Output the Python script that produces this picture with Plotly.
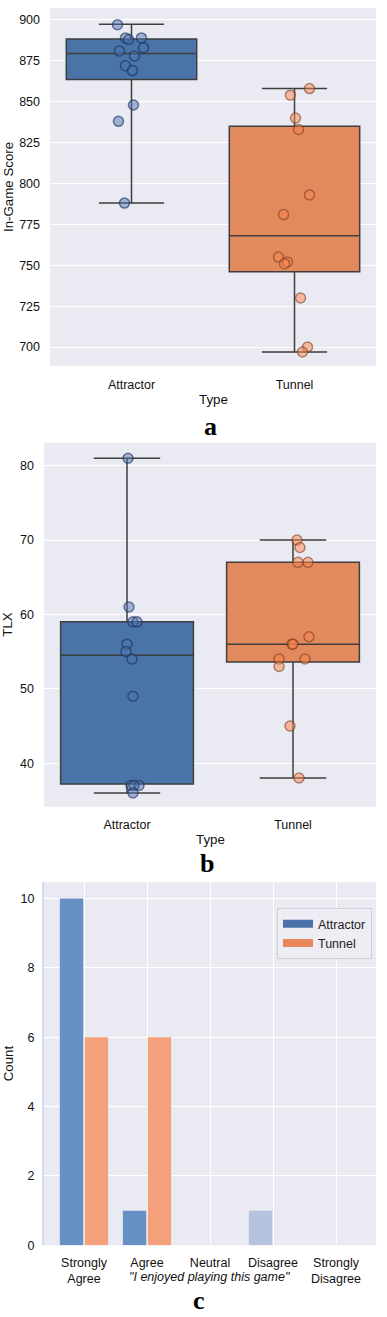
import plotly.graph_objects as go

W, H = 387, 1317

# ---------------- data ----------------
types = ["Attractor", "Tunnel"]

# Panel a: in-game score
score_attractor = [897, 889, 888, 889, 883, 881, 878, 872, 869, 848, 838, 788]
score_attractor_jitter = [-0.086, -0.037, -0.018, 0.061, 0.074, -0.074, 0.018, -0.037, 0.006, 0.012, -0.080, -0.043]
score_tunnel = [858, 854, 840, 833, 793, 781, 755, 752, 751, 730, 700, 697]
score_tunnel_jitter = [0.092, -0.025, 0.006, 0.025, 0.092, -0.067, -0.098, -0.043, -0.061, 0.037, 0.080, 0.049]
score_q1 = [863.5, 746]
score_median = [879.5, 768]
score_q3 = [888.3, 835]
score_low = [788, 697]
score_high = [897.4, 858]

# Panel b: TLX
tlx_attractor = [81, 61, 59, 59, 56, 55, 54, 49, 37, 37, 37, 36]
tlx_attractor_jitter = [0.006, 0.012, 0.036, 0.060, 0.0, -0.006, 0.030, 0.036, 0.024, 0.072, 0.042, 0.036]
tlx_tunnel = [70, 69, 67, 67, 57, 56, 56, 54, 54, 53, 45, 38]
tlx_tunnel_jitter = [0.024, 0.042, 0.030, 0.090, 0.096, -0.006, 0.0, -0.084, 0.072, -0.084, -0.018, 0.036]
tlx_q1 = [37.2, 53.6]
tlx_median = [54.5, 56]
tlx_q3 = [59, 67]
tlx_low = [36, 38]
tlx_high = [81, 70]

# Panel c: Likert counts
likert_labels = ["Strongly<br>Agree", "Agree", "Neutral", "Disagree", "Strongly<br>Disagree"]
count_attractor = [10, 1, 0, 1, 0]
count_tunnel = [6, 6, 0, 0, 0]

# ---------------- style ----------------
BG = "#eaeaf2"
EDGE = "#3f3f3f"
BOX_COLORS = ["#4a74a8", "#e2895e"]
PT_FILL = ["rgba(76,114,176,0.47)", "rgba(250,134,78,0.5)"]
PT_EDGE = ["rgba(25,45,85,0.6)", "rgba(120,55,25,0.55)"]
SANS = "Liberation Sans, Arial, sans-serif"
SERIF = "Liberation Serif, Times New Roman, serif"


def xd(left, right):
    return [left / W, right / W]


def yd(top, bottom):
    return [1 - bottom / H, 1 - top / H]


def yp(px):
    return 1 - px / H


fig = go.Figure()

# ---- box panels ----
panels = [
    ("x", "y", score_q1, score_median, score_q3, score_low, score_high,
     [(score_attractor, score_attractor_jitter), (score_tunnel, score_tunnel_jitter)]),
    ("x2", "y2", tlx_q1, tlx_median, tlx_q3, tlx_low, tlx_high,
     [(tlx_attractor, tlx_attractor_jitter), (tlx_tunnel, tlx_tunnel_jitter)]),
]
for xa, ya, q1, med, q3, lo, hi, pts in panels:
    for i, t in enumerate(types):
        fig.add_trace(go.Box(
            x=[i], q1=[q1[i]], median=[med[i]], q3=[q3[i]],
            lowerfence=[lo[i]], upperfence=[hi[i]],
            width=0.8, whiskerwidth=0.5, boxpoints=False,
            fillcolor=BOX_COLORS[i], line=dict(color=EDGE, width=1.5),
            name=t, showlegend=False, hoverinfo="skip",
            xaxis=xa, yaxis=ya,
        ))
    for i, (vals, jit) in enumerate(pts):
        fig.add_trace(go.Scatter(
            x=[i + j for j in jit], y=vals, mode="markers",
            marker=dict(size=10, color=PT_FILL[i], line=dict(color=PT_EDGE[i], width=1.5)),
            showlegend=False, xaxis=xa, yaxis=ya,
        ))

# ---- bar panel ----
cat_pos = list(range(len(likert_labels)))
attr_colors = ["#b5c3de" if lab == "Disagree" else "#6790c4" for lab in likert_labels]
fig.add_trace(go.Bar(x=cat_pos, y=count_attractor, marker=dict(color=attr_colors, line=dict(width=0)),
                     name="Attractor", showlegend=False, xaxis="x3", yaxis="y3"))
fig.add_trace(go.Bar(x=cat_pos, y=count_tunnel, marker=dict(color="#f4a07a", line=dict(width=0)),
                     name="Tunnel", showlegend=False, xaxis="x3", yaxis="y3"))
for name, col in [("Attractor", "#4a72aa"), ("Tunnel", "#e8875b")]:
    fig.add_trace(go.Scatter(x=[None], y=[None], mode="lines", line=dict(color=col, width=8),
                             name=name, xaxis="x3", yaxis="y3"))

tickfont = dict(family=SANS, size=12.5, color="#111111")
common_y = dict(showgrid=True, gridcolor="white", gridwidth=1, zeroline=False, ticks="",
                tickfont=tickfont, showline=False)
common_x = dict(showgrid=False, zeroline=False, ticks="", tickfont=tickfont, showline=False)

fig.update_layout(
    width=W, height=H,
    margin=dict(l=0, r=0, t=0, b=0),
    paper_bgcolor="white", plot_bgcolor=BG,
    barmode="group", bargap=0.21, bargroupgap=0.06,
    showlegend=True,
    legend=dict(x=372 / W, y=yp(913), xanchor="right", yanchor="top",
                bgcolor="#ededf3", bordercolor="#cfcfd8", borderwidth=1,
                font=dict(family=SANS, size=12.5, color="#222222"),
                itemwidth=30, tracegroupgap=0),
    xaxis=dict(domain=xd(50, 376), range=[-0.5, 1.5], anchor="y",
               tickvals=[0, 1], ticktext=types, ticklabelstandoff=9, **common_x),
    yaxis=dict(domain=yd(8, 368), range=[688.4, 907.3], anchor="x",
               tickvals=[700, 725, 750, 775, 800, 825, 850, 875, 900], ticklabelstandoff=9, **common_y),
    xaxis2=dict(domain=xd(44, 376), range=[-0.5, 1.5], anchor="y2",
                tickvals=[0, 1], ticktext=types, ticklabelstandoff=9, **common_x),
    yaxis2=dict(domain=yd(445, 811), range=[34.15, 83.1], anchor="x2",
                tickvals=[40, 50, 60, 70, 80], ticklabelstandoff=9, **common_y),
    xaxis3=dict(domain=xd(44, 376), range=[-0.635, 4.635], anchor="y3",
                tickvals=cat_pos, ticktext=likert_labels, ticklabelstandoff=8,
                showgrid=True, gridcolor="white", gridwidth=1, zeroline=False, ticks="",
                tickfont=tickfont, showline=False),
    yaxis3=dict(domain=yd(887, 1252), range=[0, 10.47], anchor="x3",
                tickvals=[0, 2, 4, 6, 8, 10], ticklabelstandoff=5,
                showgrid=True, gridcolor="white", gridwidth=1, zeroline=False, ticks="",
                tickfont=tickfont, showline=True, linecolor="#d3dbf4", linewidth=2),
)

ann = []


def add_text(text, x, y, size=13, angle=0, family=SANS, color="#111111", height=None):
    a = dict(text=text, x=x / W, y=yp(y), xref="paper", yref="paper",
             showarrow=False, textangle=angle, xanchor="center", yanchor="middle",
             font=dict(family=family, size=size, color=color))
    if height is not None:
        a["height"] = height
        a["valign"] = "middle"
    ann.append(a)


add_text("In-Game Score", 8, 188, angle=-90, size=13.3)
add_text("Type", 213, 402, size=13.3)
add_text("<b>a</b>", 210, 428, size=26, family=SERIF, color="black", height=26)
add_text("TLX", 8, 628, angle=-90, size=13.3)
add_text("Type", 210, 844, size=13.3)
add_text("<b>b</b>", 207, 868, size=26, family=SERIF, color="black", height=28)
add_text("Count", 8, 1069, angle=-90, size=13.3)
add_text("<i>\"I enjoyed playing this game\"</i>", 209, 1284, size=12.5)
add_text("<b>c</b>", 199, 1307, size=26, family=SERIF, color="black", height=20)
fig.update_layout(annotations=ann)

fig.write_html("out.html", config={"displayModeBar": False},
               post_script="document.body.style.margin='0';document.body.style.overflow='hidden';")
